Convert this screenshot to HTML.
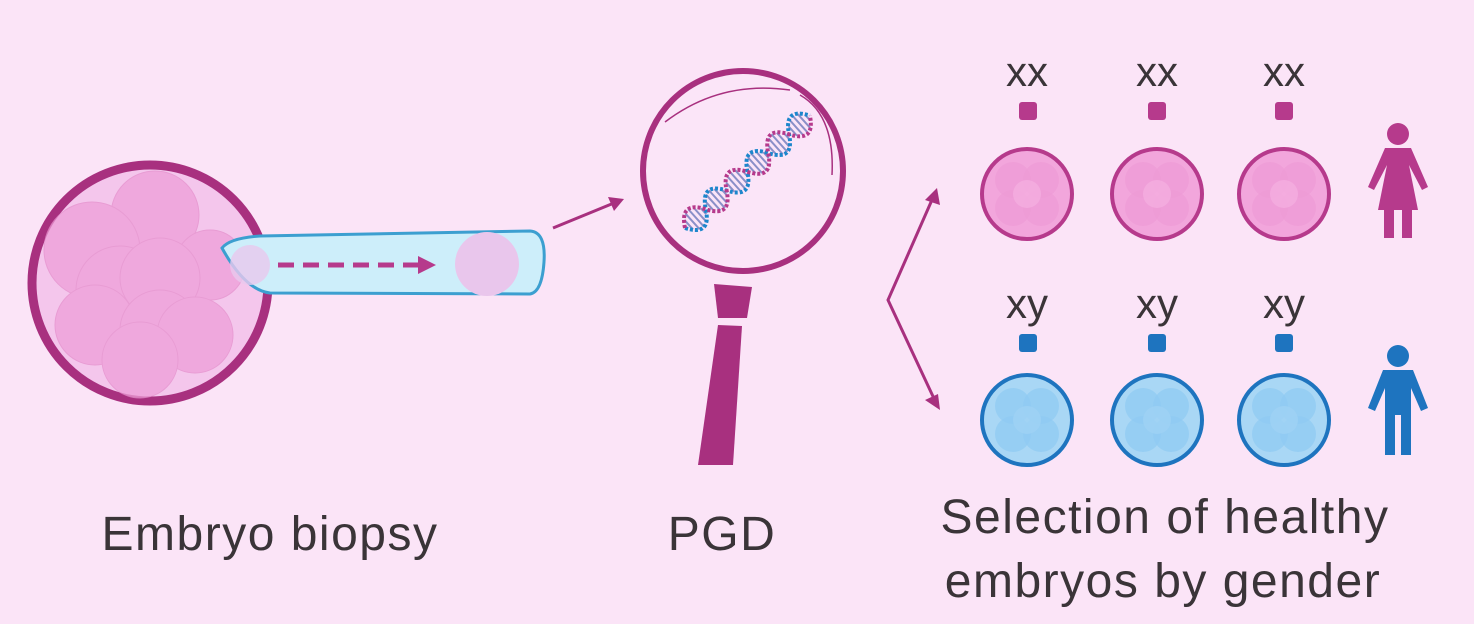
<!DOCTYPE html>
<html><head><meta charset="utf-8"><style>
html,body{margin:0;padding:0;background:#fbe4f7;}
svg{display:block}
text{font-family:"Liberation Sans",sans-serif;fill:#3a3438}
</style></head><body>
<svg width="1474" height="624" viewBox="0 0 1474 624" xmlns="http://www.w3.org/2000/svg">
<rect width="1474" height="624" fill="#fbe4f7"/>
<defs>
<g id="pinkEmb">
 <circle r="45" fill="#f2a6dc" stroke="#b63a8c" stroke-width="4"/>
 <circle cx="-14" cy="-14" r="18" fill="#ee9bd6" opacity=".7"/>
 <circle cx="14" cy="-14" r="18" fill="#ee9bd6" opacity=".7"/>
 <circle cx="-14" cy="14" r="18" fill="#ee9bd6" opacity=".7"/>
 <circle cx="14" cy="14" r="18" fill="#ee9bd6" opacity=".7"/>
 <circle r="14" fill="#f4aee0" opacity=".8"/>
</g>
<g id="blueEmb">
 <circle r="45" fill="#a9d7f5" stroke="#1e74bf" stroke-width="4"/>
 <circle cx="-14" cy="-14" r="18" fill="#8fcaf2" opacity=".7"/>
 <circle cx="14" cy="-14" r="18" fill="#8fcaf2" opacity=".7"/>
 <circle cx="-14" cy="14" r="18" fill="#8fcaf2" opacity=".7"/>
 <circle cx="14" cy="14" r="18" fill="#8fcaf2" opacity=".7"/>
 <circle r="14" fill="#9fd2f4" opacity=".8"/>
</g>
<g id="rungs" stroke="#8a8fc8" stroke-width="2">
 <line x1="5" y1="-6.4" x2="5" y2="6.4"/>
 <line x1="10" y1="-10.8" x2="10" y2="10.8"/>
 <line x1="15" y1="-11.9" x2="15" y2="11.9"/>
 <line x1="20" y1="-9.4" x2="20" y2="9.4"/>
 <line x1="25" y1="-4" x2="25" y2="4"/>
</g>
</defs>

<!-- Embryo -->
<circle cx="150" cy="283" r="118" fill="#f4c6ec" stroke="#a8307f" stroke-width="9"/>
<g fill="#ee9fd8" opacity=".75" stroke="#e58fcc" stroke-width="1">
<circle cx="155" cy="215" r="44"/>
<circle cx="92" cy="250" r="48"/>
<circle cx="210" cy="265" r="35"/>
<circle cx="120" cy="290" r="44"/>
<circle cx="160" cy="278" r="40"/>
<circle cx="95" cy="325" r="40"/>
<circle cx="160" cy="330" r="40"/>
<circle cx="195" cy="335" r="38"/>
<circle cx="140" cy="360" r="38"/>
</g>
<!-- Pipette -->
<path d="M222 248 Q230 238 260 236 L530 231 Q546 232 544 262 Q542 292 530 294 L270 293 Q245 290 222 248 Z" fill="#cdeefa" stroke="#3c9fd0" stroke-width="3"/>
<circle cx="250" cy="265" r="20" fill="#e9c8ee" opacity=".8"/>
<circle cx="487" cy="264" r="32" fill="#e9c6ec"/>
<line x1="278" y1="265" x2="418" y2="265" stroke="#b63a8c" stroke-width="5" stroke-dasharray="16,9"/>
<path d="M418 256 L436 265 L418 274 Z" fill="#b63a8c"/>

<!-- arrow to PGD -->
<line x1="553" y1="228" x2="614" y2="203" stroke="#a8307f" stroke-width="3"/>
<path d="M624 199 L608 197 L614 211 Z" fill="#a8307f"/>

<!-- Magnifier -->
<circle cx="743" cy="171" r="100" fill="#fbe5f8" stroke="#a8307f" stroke-width="6"/>
<path d="M665 122 Q720 80 790 90" fill="none" stroke="#a8307f" stroke-width="1.5"/>
<path d="M800 95 Q835 115 832 175" fill="none" stroke="#a8307f" stroke-width="1.5"/>
<path d="M714 284 L752 287 L747 318 L718 318 Z" fill="#a8307f"/>
<path d="M718 325 L742 326 L733 465 L698 465 Z" fill="#a8307f"/>
<!-- DNA -->
<g transform="translate(685,228) rotate(-42)">
 <use href="#rungs" x="0"/><use href="#rungs" x="28"/><use href="#rungs" x="56"/>
 <use href="#rungs" x="84"/><use href="#rungs" x="112"/><use href="#rungs" x="140"/>
 <path d="M0 0 Q14 24 28 0 Q42 -24 56 0 Q70 24 84 0 Q98 -24 112 0 Q126 24 140 0 Q154 -24 168 0" fill="none" stroke="#1d86cc" stroke-width="4" stroke-dasharray="3,2"/>
 <path d="M0 0 Q14 -24 28 0 Q42 24 56 0 Q70 -24 84 0 Q98 24 112 0 Q126 -24 140 0 Q154 24 168 0" fill="none" stroke="#b63a8c" stroke-width="4" stroke-dasharray="3,2"/>
</g>

<!-- branch arrows -->
<path d="M935 193 L888 300 L937 405" fill="none" stroke="#a8307f" stroke-width="3"/>
<path d="M937 188 L925 200 L940 205 Z" fill="#a8307f"/>
<path d="M940 410 L925 400 L938 394 Z" fill="#a8307f"/>

<g font-size="42">
<text x="1027" y="86" text-anchor="middle">xx</text>
<text x="1157" y="86" text-anchor="middle">xx</text>
<text x="1284" y="86" text-anchor="middle">xx</text>
<text x="1027" y="318" text-anchor="middle">xy</text>
<text x="1157" y="318" text-anchor="middle">xy</text>
<text x="1284" y="318" text-anchor="middle">xy</text>
</g>
<g fill="#b63a8c">
<rect x="1019" y="102" width="18" height="18" rx="3"/>
<rect x="1148" y="102" width="18" height="18" rx="3"/>
<rect x="1275" y="102" width="18" height="18" rx="3"/>
</g>
<g fill="#1e74bf">
<rect x="1019" y="334" width="18" height="18" rx="3"/>
<rect x="1148" y="334" width="18" height="18" rx="3"/>
<rect x="1275" y="334" width="18" height="18" rx="3"/>
</g>
<use href="#pinkEmb" x="1027" y="194"/>
<use href="#pinkEmb" x="1157" y="194"/>
<use href="#pinkEmb" x="1284" y="194"/>
<use href="#blueEmb" x="1027" y="420"/>
<use href="#blueEmb" x="1157" y="420"/>
<use href="#blueEmb" x="1284" y="420"/>

<!-- female -->
<g fill="#b63a8c">
<circle cx="1398" cy="134" r="11"/>
<path d="M1385 148 L1411 148 L1428 187 L1422 190 L1409 165 L1418 210 L1378 210 L1387 165 L1374 190 L1368 187 Z"/>
<rect x="1384" y="208" width="10" height="30"/>
<rect x="1402" y="208" width="10" height="30"/>
</g>
<!-- male -->
<g fill="#1e74bf">
<circle cx="1398" cy="356" r="11"/>
<path d="M1383 370 L1413 370 L1428 408 L1421 411 L1411 388 L1411 455 L1401 455 L1401 415 L1395 415 L1395 455 L1385 455 L1385 388 L1375 411 L1368 408 Z"/>
</g>

<!-- labels -->
<g font-size="48" letter-spacing="1.5">
<text x="270" y="550" text-anchor="middle">Embryo biopsy</text>
<text x="722" y="550" text-anchor="middle">PGD</text>
<text x="1165" y="533" text-anchor="middle">Selection of healthy</text>
<text x="1163" y="597" text-anchor="middle">embryos by gender</text>
</g>
</svg>
</body></html>
